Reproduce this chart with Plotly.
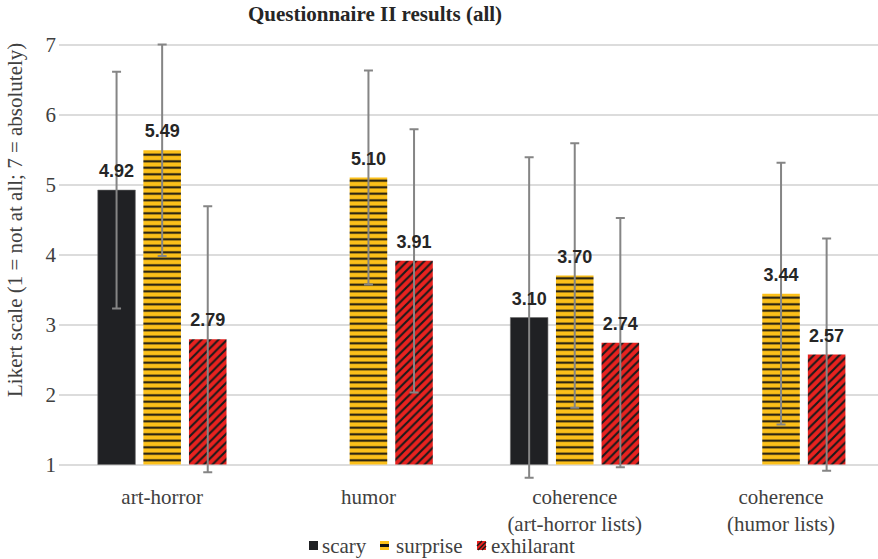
import plotly.graph_objects as go

# Questionnaire II: mean Likert ratings with standard deviations
categories = ["art-horror", "humor", "coherence<br>(art-horror lists)", "coherence<br>(humor lists)"]
series_names = ["scary", "surprise", "exhilarant"]

scary_mean = [4.92, None, 3.10, None]
scary_sd = [1.69, 0, 2.29, 0]

surprise_mean = [5.49, 5.10, 3.70, 3.44]
surprise_sd = [1.51, 1.53, 1.89, 1.87]

exhil_mean = [2.79, 3.91, 2.74, 2.57]
exhil_sd = [1.90, 1.88, 1.78, 1.66]

AXIS_MIN = 1  # Likert scale starts at 1

SERIF = "Liberation Serif"
SANS = "Liberation Sans"
TEXT = "#404040"

BLACK = "#202124"
YELLOW = "#FCC01A"
RED = "#E8221F"

# page geometry (px) used to place the hand-drawn legend
W, H = 878, 559
M_L, M_R, M_T, M_B = 59, 0, 41, 77
PW, PH = W - M_L - M_R, H - M_T - M_B


def px_x(px):
    return (px - M_L) / PW


def px_y(py):
    return (H - M_B - py) / PH


def series(name, means, sds, marker):
    heights = [None if m is None else m - AXIS_MIN for m in means]
    bar = go.Bar(
        name=name, x=categories, y=heights, base=AXIS_MIN,
        offsetgroup=name, marker=marker, showlegend=False,
        error_y=dict(type="data", array=sds, visible=True,
                     color="#858585", thickness=2, width=4.5),
        hoverinfo="skip",
    )
    labels = go.Scatter(
        name=name, x=categories, y=means, offsetgroup=name,
        mode="markers+text", text=["" if m is None else f"{m:.2f}" for m in means],
        textposition="top center", cliponaxis=False,
        marker=dict(size=12, color="rgba(0,0,0,0)"),
        textfont=dict(family=SANS, size=18, color="#262626", weight="bold"),
        showlegend=False, hoverinfo="skip",
    )
    return bar, labels


fig = go.Figure()
traces = [
    series("scary", scary_mean, scary_sd,
           dict(color=BLACK, line=dict(color="#6b6b6b", width=0.6))),
    series("surprise", surprise_mean, surprise_sd,
           dict(color=YELLOW, line=dict(width=0),
                pattern=dict(shape="-", fgcolor="#111111", bgcolor=YELLOW,
                             size=6.5, solidity=0.3, fillmode="replace"))),
    series("exhilarant", exhil_mean, exhil_sd,
           dict(color=RED, line=dict(width=0),
                pattern=dict(shape="/", fgcolor="#1a1a1a", bgcolor=RED,
                             size=6, solidity=0.35, fillmode="replace"))),
]
for bar, _ in traces:
    fig.add_trace(bar)
for _, lab in traces:
    fig.add_trace(lab)

fig.update_layout(
    width=W, height=H,
    margin=dict(l=M_L, r=M_R, t=M_T, b=M_B),
    paper_bgcolor="white", plot_bgcolor="white",
    barmode="group", bargap=0.337, bargroupgap=0.176,
    scattermode="group", scattergap=0.337,
    font=dict(family=SERIF, color=TEXT, size=21),
    title=dict(text="<b>Questionnaire II results (all)</b>",
               font=dict(family=SERIF, size=21, color="#262626"),
               x=375 / W, xanchor="center", xref="container",
               y=1 - 14 / H, yanchor="middle", yref="container"),
    xaxis=dict(range=[-0.5, 3.47], showgrid=False, zeroline=False, showline=False,
               ticks="", tickfont=dict(family=SERIF, size=21, color=TEXT)),
    yaxis=dict(range=[0.75, 7.05], tickvals=[1, 2, 3, 4, 5, 6, 7],
               showgrid=True, gridcolor="#dcdcdc", gridwidth=1.5,
               zeroline=False, showline=False, ticks="", ticklabelstandoff=2,
               tickfont=dict(family=SERIF, size=21, color=TEXT)),
    showlegend=False,
)

# y-axis title
fig.add_annotation(
    text="Likert scale (1 = not at all; 7 = absolutely)",
    xref="paper", yref="paper", x=px_x(15), y=px_y(220),
    xanchor="center", yanchor="middle", textangle=-90, showarrow=False,
    font=dict(family=SERIF, size=21, color=TEXT),
)

# legend: small swatches followed by labels
sw_top, sw_bot = 541, 550
legend_items = [(309, 321), (380, 395), (477, 490)]
for (sx, tx), name in zip(legend_items, series_names):
    x0, x1 = px_x(sx), px_x(sx + 9)
    y0, y1 = px_y(sw_bot), px_y(sw_top)
    if name == "scary":
        fig.add_shape(type="rect", xref="paper", yref="paper", x0=x0, x1=x1, y0=y0, y1=y1,
                      fillcolor=BLACK, line=dict(width=0))
    elif name == "surprise":
        fig.add_shape(type="rect", xref="paper", yref="paper", x0=x0, x1=x1, y0=y0, y1=y1,
                      fillcolor=YELLOW, line=dict(width=0))
        fig.add_shape(type="rect", xref="paper", yref="paper", x0=x0, x1=x1,
                      y0=px_y(547), y1=px_y(544), fillcolor="#111111", line=dict(width=0))
    else:
        fig.add_shape(type="rect", xref="paper", yref="paper", x0=x0, x1=x1, y0=y0, y1=y1,
                      fillcolor=RED, line=dict(width=0))
        for a, b in [((0, 5), (5, 0)), ((1, 9), (9, 1)), ((5, 9), (9, 5))]:
            fig.add_shape(type="line", xref="paper", yref="paper",
                          x0=px_x(sx + a[0]), y0=px_y(sw_top + a[1]),
                          x1=px_x(sx + b[0]), y1=px_y(sw_top + b[1]),
                          line=dict(color="#1a1a1a", width=1.4))
    fig.add_annotation(text=name, xref="paper", yref="paper", x=px_x(tx), y=px_y(546),
                       xanchor="left", yanchor="middle", showarrow=False, borderpad=0,
                       font=dict(family=SERIF, size=21, color=TEXT))

fig.write_html("out.html")
